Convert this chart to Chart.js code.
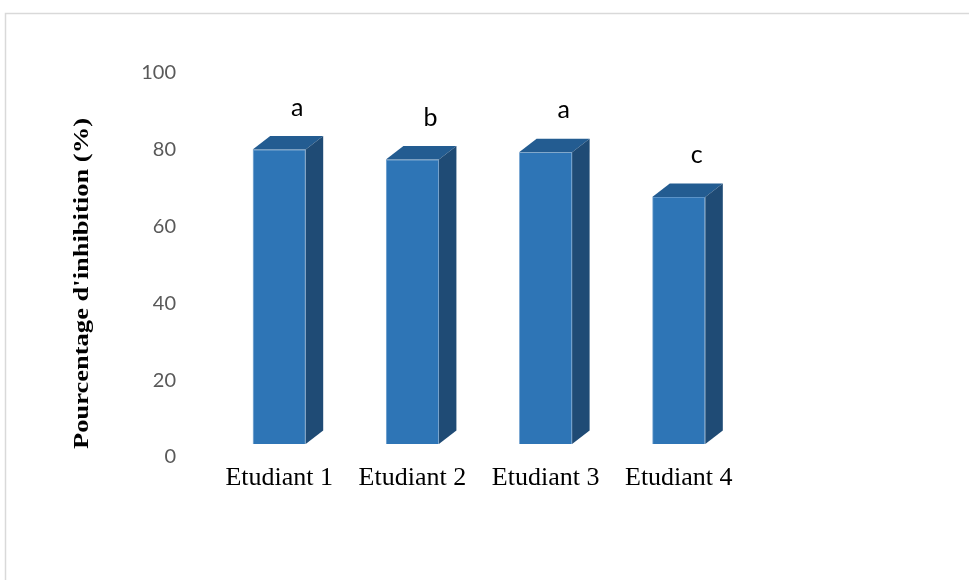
<!DOCTYPE html>
<html>
<head>
<meta charset="utf-8">
<script src="https://cdn.jsdelivr.net/npm/chart.js@4.4.1/dist/chart.umd.min.js"></script>
<style>
  html, body { margin: 0; padding: 0; background: #ffffff; }
  #wrap { width: 969px; height: 580px; position: relative; }
</style>
</head>
<body>
<div id="wrap"><canvas id="chart" width="969" height="580"></canvas></div>
<script>
// Inhibition percentage per student
const categories = ['Etudiant 1', 'Etudiant 2', 'Etudiant 3', 'Etudiant 4'];
const inhibition = [76.7, 74.1, 76.0, 64.3];
const groupLetters = ['a', 'b', 'a', 'c'];
const yTicks = [0, 20, 40, 60, 80, 100];
const yTitle = "Pourcentage d'inhibition (%)";

const FRONT = '#2E75B6';
const TOP = '#235C91';
const SIDE = '#1F4B75';
const DEPTH_X = 17.5;
const DEPTH_Y = 13.5;

// Outer frame of the chart box
const framePlugin = {
  id: 'frame',
  beforeDraw(chart) {
    const ctx = chart.ctx;
    ctx.save();
    ctx.strokeStyle = '#d9d9d9';
    ctx.lineWidth = 1.5;
    ctx.strokeRect(5.5, 13.5, 2000, 2000);
    ctx.restore();
  }
};

// Top and side faces give each column its box look
const boxPlugin = {
  id: 'box3d',
  afterDatasetsDraw(chart) {
    const ctx = chart.ctx;
    const meta = chart.getDatasetMeta(0);
    ctx.save();
    meta.data.forEach((bar, i) => {
      const p = bar.getProps(['x', 'y', 'base', 'width'], true);
      const l = p.x - p.width / 2, r = p.x + p.width / 2;
      const t = p.y, b = p.base;
      // top face
      ctx.fillStyle = TOP;
      ctx.beginPath();
      ctx.moveTo(l, t);
      ctx.lineTo(l + DEPTH_X, t - DEPTH_Y);
      ctx.lineTo(r + DEPTH_X, t - DEPTH_Y);
      ctx.lineTo(r, t);
      ctx.closePath();
      ctx.fill();
      // side face
      ctx.fillStyle = SIDE;
      ctx.beginPath();
      ctx.moveTo(r, t);
      ctx.lineTo(r + DEPTH_X, t - DEPTH_Y);
      ctx.lineTo(r + DEPTH_X, b - DEPTH_Y);
      ctx.lineTo(r, b);
      ctx.closePath();
      ctx.fill();
      // group letter above the column
      ctx.fillStyle = '#000000';
      ctx.font = '25px Lato, "Open Sans", sans-serif';
      ctx.textAlign = 'center';
      ctx.textBaseline = 'middle';
      ctx.fillText(groupLetters[i], p.x + 18, t - 42);
    });
    ctx.restore();
  }
};

// Rotated value-axis title
const titlePlugin = {
  id: 'yTitle',
  afterDraw(chart) {
    const ctx = chart.ctx;
    ctx.save();
    ctx.translate(83, 283.5);
    ctx.rotate(-Math.PI / 2);
    ctx.font = 'bold 21px "Liberation Serif", "Times New Roman", serif';
    const w = ctx.measureText(yTitle).width;
    ctx.scale(331 / w, 1);
    ctx.fillStyle = '#000000';
    ctx.textAlign = 'center';
    ctx.textBaseline = 'middle';
    ctx.fillText(yTitle, 0, 0);
    ctx.restore();
  }
};

new Chart(document.getElementById('chart'), {
  type: 'bar',
  data: {
    labels: categories,
    datasets: [{
      data: inhibition,
      backgroundColor: FRONT,
      borderColor: '#5B93C8',
      borderWidth: 0.8,
      barPercentage: 1,
      categoryPercentage: 0.398
    }]
  },
  options: {
    responsive: false,
    animation: false,
    devicePixelRatio: 1,
    layout: { padding: { left: 0, top: 60, right: 223.6, bottom: 0 } },
    plugins: {
      legend: { display: false },
      tooltip: { enabled: false }
    },
    scales: {
      x: {
        grid: { display: false, drawTicks: false },
        border: { display: false },
        ticks: {
          padding: 19,
          color: '#000000',
          font: { family: '"Liberation Serif", "Times New Roman", serif', size: 26 }
        },
        afterFit(scale) { scale.height = 136; }
      },
      y: {
        min: 0,
        max: 100,
        grid: { display: false, drawTicks: false },
        border: { display: false },
        afterBuildTicks(scale) { scale.ticks = yTicks.map(v => ({ value: v })); },
        ticks: {
          padding: 36.6,
          labelOffset: 13,
          color: '#595959',
          font: { family: 'Lato, "Open Sans", sans-serif', size: 20 }
        },
        afterFit(scale) { scale.width = 212.6; }
      }
    }
  },
  plugins: [framePlugin, boxPlugin, titlePlugin]
});
</script>
</body>
</html>
